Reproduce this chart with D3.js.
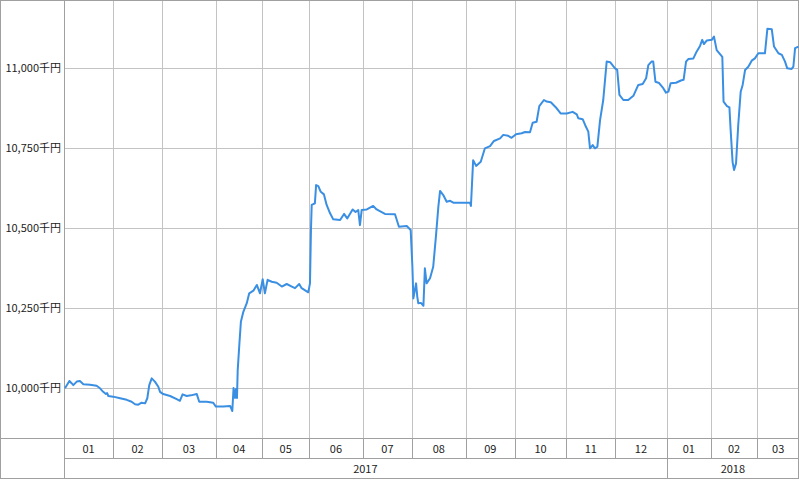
<!DOCTYPE html>
<html lang="ja">
<head>
    <meta charset="UTF-8">
    <title>資産推移</title>
    <style>
        body {
            margin: 0;
            padding: 0;
            background: #fff;
        }
        svg {
            display: block;
        }
        text {
            font-family: "Noto Sans CJK JP", "DejaVu Sans", sans-serif;
            font-size: 11px;
            fill: #222;
        }
    </style>
</head>
<body>
    <script src="https://d3js.org/d3.v7.min.js"></script>
    <script>
        // month cells along the bottom (trading days per month)
        const monthLabels = ['01', '02', '03', '04', '05', '06', '07', '08', '09', '10', '11', '12', '01', '02', '03'];
        const monthDays = [20, 20, 22, 19, 19, 22, 20, 22, 20, 21, 20, 21, 18, 19, 17];
        const yearLabels = ['2017', '2018'];
        const yearMonths = [12, 3];

        const yTicks = [10000, 10250, 10500, 10750, 11000];

        // balance series: trading day index / value (千円)
        const dayIdx = [
            0.4, 2.2, 3.1, 3.8, 5.2, 6.5, 7.9, 10.6, 13.3, 14.7, 16, 17.1, 17.6, 18.1, 20.1, 22.9, 25.6, 27.6, 29, 30.3,
            31.7, 33.1, 34, 34.8, 35.8, 37.1, 38.5, 39.2, 40.5, 43.3, 46, 47.3, 48.4, 50.1, 51.8, 54.2, 55.2, 58.2, 60.9, 62,
            65, 67.8, 68.7, 69.2, 69.8, 70.2, 70.6, 70.9, 71.6, 72.2, 73.2, 74.6, 75.6, 77.3, 78.7, 80, 81.1, 82, 83.1, 84.8,
            86.8, 88.9, 90.9, 93, 94.3, 96, 97, 99.7, 100.4, 100.8, 101.1, 102.4, 102.9, 103.8, 104.8, 106.1, 107.2, 108.6, 109.9, 112.7,
            114.3, 115.6, 117.8, 119, 120.1, 120.8, 121.5, 123.6, 126.2, 127.6, 131, 135.1, 136.7, 139.9, 141.5, 142.2, 142.6, 143.7, 144.2, 144.6,
            145.7, 146.7, 147.3, 148, 149.4, 150.7, 151.8, 152.8, 153.5, 154.8, 156.2, 157.6, 158.9, 161.6, 165.7, 166.1, 167, 168.2, 170.1, 171.8,
            173.9, 175.5, 178, 179.3, 181.3, 182.7, 184.5, 186.8, 188.2, 190.2, 191.3, 192.9, 194, 195.9, 197, 198.7, 201.1, 202.7, 205.2, 207.6,
            209.3, 209.9, 211.7, 212.7, 214, 214.7, 215.8, 216.7, 217.7, 218.8, 220.1, 221.5, 222.9, 224.9, 225.8, 226.7, 228.3, 230.3, 232.4, 234.4,
            236.2, 237.6, 238.5, 239.8, 240.5, 241.4, 242.9, 244.6, 245.7, 246.7, 247.6, 249.8, 251.8, 252.9, 253.9, 254.8, 256.9, 258.2, 259.6, 260.5,
            261.2, 262.4, 264.4, 265.3, 266.4, 267.5, 268.7, 269.2, 270.6, 271.6, 272.1, 272.9, 273.5, 274.3, 275.2, 276.2, 277, 278, 279.3, 280.7,
            282, 283.4, 286.1, 287.1, 288.9, 289.8, 291.6, 293, 294.3, 295.2, 297, 297.7, 298.4, 299.8
        ];
        const balance = [
            9999, 10022, 10015, 10009, 10020, 10022, 10012, 10010, 10007, 9999, 9988, 9981, 9984, 9975, 9973, 9968, 9963, 9957, 9949, 9948,
            9954, 9952, 9968, 10009, 10030, 10020, 10004, 9988, 9981, 9975, 9965, 9960, 9980, 9975, 9977, 9981, 9957, 9957, 9954, 9942,
            9942, 9944, 9928, 10000, 9969, 9997, 9969, 10056, 10140, 10207, 10238, 10265, 10296, 10304, 10322, 10296, 10340, 10296, 10338, 10332,
            10329, 10317, 10325, 10317, 10312, 10325, 10312, 10299, 10327, 10494, 10572, 10577, 10634, 10631, 10613, 10605, 10572, 10546, 10527, 10525,
            10544, 10530, 10558, 10550, 10556, 10509, 10556, 10558, 10569, 10558, 10544, 10543, 10504, 10506, 10494, 10379, 10280, 10327, 10285, 10265,
            10266, 10257, 10374, 10327, 10343, 10379, 10473, 10567, 10616, 10603, 10582, 10585, 10579, 10579, 10579, 10569, 10712, 10694, 10707, 10749,
            10756, 10772, 10780, 10791, 10788, 10782, 10793, 10796, 10800, 10799, 10829, 10832, 10881, 10900, 10895, 10893, 10874, 10858, 10858, 10863,
            10855, 10843, 10840, 10822, 10801, 10749, 10759, 10749, 10754, 10837, 10900, 11020, 11018, 10999, 10994, 10916, 10900, 10900, 10913, 10947,
            10950, 10968, 11009, 11020, 11020, 10957, 10953, 10937, 10923, 10926, 10952, 10954, 10961, 10963, 11020, 11028, 11030, 11051, 11069, 11088,
            11075, 11086, 11088, 11098, 11056, 11046, 11035, 10895, 10881, 10877, 10806, 10706, 10681, 10702, 10822, 10926, 10947, 10994, 11004, 11023,
            11030, 11046, 11046, 11123, 11121, 11067, 11046, 11041, 11020, 10999, 10997, 11004, 11062, 11067
        ];

        const width = 799;
        const height = 480;
        const plotLeft = 64;
        const plotRight = 799;
        const plotTop = 0;
        const plotBottom = 438;
        const monthRow = 458;
        const yearRow = 478;

        const svg = d3.select('body').append('svg')
            .attr('width', width)
            .attr('height', height);

        const totalDays = d3.sum(monthDays);
        const x = d3.scaleLinear()
            .domain([0, totalDays])
            .range([plotLeft, plotRight]);

        // 10,000 sits at y=388 and each 250 step is 80px
        const y = d3.scaleLinear()
            .domain([9843.75, 11212.5])
            .range([plotBottom, plotTop]);

        // month boundaries from cumulative day counts
        const monthStart = [0];
        monthDays.forEach(d => monthStart.push(monthStart[monthStart.length - 1] + d));

        const yearStart = [0];
        yearMonths.forEach(m => yearStart.push(yearStart[yearStart.length - 1] + m));

        const snap = v => Math.round(v) + 0.5;

        // horizontal grid + labels
        svg.append('g')
            .selectAll('line')
            .data(yTicks)
            .enter().append('line')
            .attr('x1', plotLeft)
            .attr('x2', plotRight)
            .attr('y1', d => snap(y(d)))
            .attr('y2', d => snap(y(d)))
            .attr('stroke', '#c3c3c3');

        svg.append('g')
            .selectAll('text')
            .data(yTicks)
            .enter().append('text')
            .attr('x', plotLeft - 3)
            .attr('y', d => y(d))
            .attr('dy', '0.36em')
            .attr('text-anchor', 'end')
            .text(d => d3.format(',')(d) + '千円');

        // vertical month lines through plot (lighter) and month row (darker)
        const inner = monthStart.slice(1, -1);
        svg.append('g')
            .selectAll('line')
            .data(inner)
            .enter().append('line')
            .attr('x1', d => snap(x(d)))
            .attr('x2', d => snap(x(d)))
            .attr('y1', plotTop)
            .attr('y2', plotBottom)
            .attr('stroke', '#c3c3c3');

        svg.append('g')
            .selectAll('line')
            .data(inner)
            .enter().append('line')
            .attr('x1', d => snap(x(d)))
            .attr('x2', d => snap(x(d)))
            .attr('y1', plotBottom)
            .attr('y2', monthRow)
            .attr('stroke', '#a0a0a0');

        // year separators
        svg.append('g')
            .selectAll('line')
            .data(yearStart.slice(1, -1))
            .enter().append('line')
            .attr('x1', d => snap(x(monthStart[d])))
            .attr('x2', d => snap(x(monthStart[d])))
            .attr('y1', monthRow)
            .attr('y2', yearRow)
            .attr('stroke', '#a0a0a0');

        // frame lines
        const frame = svg.append('g').attr('stroke', '#a0a0a0');
        frame.append('rect')
            .attr('x', 0.5).attr('y', 0.5)
            .attr('width', width - 1).attr('height', yearRow)
            .attr('fill', 'none');
        frame.append('line')
            .attr('x1', snap(plotLeft)).attr('x2', snap(plotLeft))
            .attr('y1', 0).attr('y2', yearRow);
        frame.append('line')
            .attr('x1', 0).attr('x2', width)
            .attr('y1', snap(plotBottom)).attr('y2', snap(plotBottom));
        frame.append('line')
            .attr('x1', plotLeft).attr('x2', width)
            .attr('y1', snap(monthRow)).attr('y2', snap(monthRow));

        // month labels
        svg.append('g')
            .selectAll('text')
            .data(monthLabels)
            .enter().append('text')
            .attr('x', (d, i) => (x(monthStart[i]) + x(monthStart[i + 1])) / 2)
            .attr('y', (plotBottom + monthRow) / 2 + 1)
            .attr('dy', '0.36em')
            .attr('text-anchor', 'middle')
            .text(d => d);

        // year labels
        svg.append('g')
            .selectAll('text')
            .data(yearLabels)
            .enter().append('text')
            .attr('x', (d, i) => (x(monthStart[yearStart[i]]) + x(monthStart[yearStart[i + 1]])) / 2)
            .attr('y', (monthRow + yearRow) / 2 + 1)
            .attr('dy', '0.36em')
            .attr('text-anchor', 'middle')
            .text(d => d);

        // balance line
        const points = dayIdx.map((d, i) => [d, balance[i]]);
        const line = d3.line()
            .x(d => x(d[0]))
            .y(d => y(d[1]));

        svg.append('path')
            .datum(points)
            .attr('fill', 'none')
            .attr('stroke', '#3a8fe3')
            .attr('stroke-width', 2)
            .attr('stroke-linejoin', 'round')
            .attr('d', line);
    </script>
</body>
</html>
